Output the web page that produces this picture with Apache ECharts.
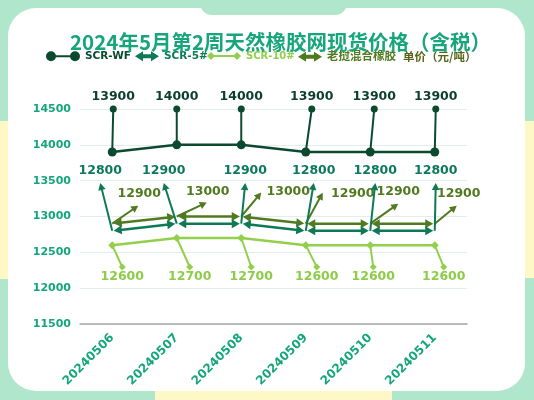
<!DOCTYPE html>
<html><head><meta charset="utf-8">
<script src="https://cdn.jsdelivr.net/npm/echarts@6/dist/echarts.min.js"></script>
<style>html,body{margin:0;padding:0;background:#b0e6cc}#c{width:534px;height:400px}</style>
</head><body><div id="c"></div>
<script>
// ---- data ----
const categories = ['20240506','20240507','20240508','20240509','20240510','20240511'];
const scrWF = [13900,14000,14000,13900,13900,13900];
const scr5  = [12800,12900,12900,12800,12800,12800];
const scr10 = [12600,12700,12700,12600,12600,12600];
const laos  = [12900,13000,13000,12900,12900,12900];
const yMin = 11500, yMax = 14500, yStep = 500;
const seriesNames = ['SCR-WF','SCR-5#','SCR-10#','老挝混合橡胶'];
const titleText = '2024年5月第2周天然橡胶网现货价格（含税）';
const unitText = '单价（元/吨）';

// ---- styles ----
const FONT = "'DejaVu Sans','Noto Sans CJK SC',sans-serif";
const C = {wf:'#0c4a2f', s5:'#0d7a55', s10:'#92cf4c', laos:'#4f7a1f', axis:'#13a67c', title:'#17a57a', unit:'#55651a'};

function arrowHead(tip, dir, len, hw, color){
  const bx = tip[0]-dir[0]*len, by = tip[1]-dir[1]*len;
  const px = -dir[1], py = dir[0];
  return {type:'polygon', shape:{points:[[tip[0],tip[1]],[bx+px*hw,by+py*hw],[bx-px*hw,by-py*hw]]}, style:{fill:color}};
}
function unit(a,b){const dx=b[0]-a[0],dy=b[1]-a[1];const l=Math.hypot(dx,dy)||1;return [dx/l,dy/l];}

function makeSeries(name, values, color, cfg){
  return {
    type:'custom', name, coordinateSystem:'cartesian2d', clip:false, z: cfg.z,
    itemStyle:{color}, encode:{x:0,y:1},
    data: values.map((v,i)=>[i,v]),
    renderItem(params, api){
      const i = params.dataIndex;
      const p = api.coord([i, values[i]]);
      const ch = [];
      if (i < values.length-1){
        const n = api.coord([i+1, values[i+1]]);
        const u = unit(p,n);
        if (cfg.arrows){
          ch.push({type:'line', shape:{x1:p[0]+u[0]*6,y1:p[1]+u[1]*6,x2:n[0]-u[0]*6,y2:n[1]-u[1]*6}, style:{stroke:color,lineWidth:2.5}});
          ch.push(arrowHead([p[0]+u[0]*1.5,p[1]+u[1]*1.5],[-u[0],-u[1]],8,4.5,color));
          ch.push(arrowHead([n[0]-u[0]*1.5,n[1]-u[1]*1.5],u,8,4.5,color));
        } else {
          ch.push({type:'line', shape:{x1:p[0],y1:p[1],x2:n[0],y2:n[1]}, style:{stroke:color,lineWidth:2.5}});
        }
      }
      // leader line
      let e;
      if (cfg.endValue != null) e = [p[0]+cfg.dx[i], api.coord([i,cfg.endValue])[1]];
      else e = [p[0]+cfg.dx[i], p[1]+cfg.dy[i]];
      const u2 = unit(p,e);
      const cut = cfg.end === 'arrow' ? 5 : 0;
      ch.push({type:'line', shape:{x1:p[0],y1:p[1],x2:e[0]-u2[0]*cut,y2:e[1]-u2[1]*cut}, style:{stroke:color,lineWidth:2}});
      if (cfg.end === 'dot') ch.push({type:'circle', shape:{cx:e[0],cy:e[1],r:3.5}, style:{fill:color}});
      else if (cfg.end === 'arrow') ch.push(arrowHead(e,u2,7,3.8,color));
      else if (cfg.end === 'diamond') ch.push({type:'polygon', shape:{points:[[e[0],e[1]-3.5],[e[0]+3.5,e[1]],[e[0],e[1]+3.5],[e[0]-3.5,e[1]]]}, style:{fill:color}});
      // point symbol
      if (cfg.symbol === 'circle') ch.push({type:'circle', shape:{cx:p[0],cy:p[1],r:4.5}, style:{fill:color}});
      else if (cfg.symbol === 'diamond') ch.push({type:'polygon', shape:{points:[[p[0],p[1]-4],[p[0]+4,p[1]],[p[0],p[1]+4],[p[0]-4,p[1]]]}, style:{fill:color}});
      // label
      const t = cfg.textOff[i] || cfg.textOff[0];
      ch.push({type:'text', x:e[0]+t[0], y:e[1]+t[1], style:{text:String(values[i]), fill:cfg.labelColor, font:'bold 12.5px '+FONT, align:'center', verticalAlign:'middle', textAlign:'center', textVerticalAlign:'middle'}});
      return {type:'group', children:ch};
    }
  };
}

const series = [
  makeSeries(seriesNames[0], scrWF, C.wf, {z:5, symbol:'circle', end:'dot', endValue:14500, dx:[1,0,0,6,4,1], textOff:[[0,-12]], labelColor:'#0c3e2c'}),
  makeSeries(seriesNames[2], scr10, C.s10, {z:4, symbol:'diamond', end:'diamond', endValue:12295, dx:[10,13,10,11,3,9], textOff:[[0,10]], labelColor:'#8dcc48'}),
  makeSeries(seriesNames[3], laos, C.laos, {z:5, arrows:true, end:'arrow', dx:[26,30,20,17,28,22], dy:[-18,-14,-24,-31,-20,-18], textOff:[[1,-12],[1,-11],[27,-1],[30,1],[0,-12],[2,-12]], labelColor:'#4f7a1f'}),
  makeSeries(seriesNames[1], scr5, C.s5, {z:6, arrows:true, end:'arrow', endValue:13467, dx:[-12,-13,4,8,5,1], textOff:[[0,-12]], labelColor:'#0b7a5c'})
];

const icDot = 'path://M0,5A5,5,0,1,1,10,5A5,5,0,1,1,0,5Z M5,4H29V6H5Z M24,5A5,5,0,1,1,34,5A5,5,0,1,1,24,5Z';
const icArrow = 'path://M0,5L8,0L8,3L16,3L16,0L24,5L16,10L16,7L8,7L8,10Z';
const icDia = 'path://M0,5L4,1L8,5L4,9Z M4,4H30V6H4Z M26,5L30,1L34,5L30,9Z';

function lg(left, name, icon, w, color, size){
  return {left, top:51, padding:0, itemWidth:w, itemHeight:10, selectedMode:false,
    textStyle:{fontFamily:FONT, fontWeight:'bold', fontSize:size, color},
    data:[{name, icon}]};
}

const option = {
  backgroundColor:'#b0e6cc',
  animation:false,
  title:{text:titleText, left:70, top:32, padding:0,
    textStyle:{fontFamily:"'Noto Sans CJK SC',sans-serif", fontWeight:'bold', fontSize:20.5, color:C.title,
      textShadowColor:'rgba(235,215,90,0.7)', textShadowOffsetX:1, textShadowOffsetY:1, textShadowBlur:0}},
  legend:[
    lg(46, seriesNames[0], icDot, 34, C.wf, 10.5),
    lg(135, seriesNames[1], icArrow, 24, C.s5, 10.5),
    lg(207, seriesNames[2], icDia, 34, C.s10, 10),
    lg(298, seriesNames[3], icArrow, 24, C.laos, 11.5)
  ],
  graphic:[
    {type:'rect', z:-10, shape:{x:0,y:121,width:24,height:158}, style:{fill:'#fdf8c6'}},
    {type:'rect', z:-10, shape:{x:510,y:121,width:24,height:157}, style:{fill:'#fdf8c6'}},
    {type:'rect', z:-10, shape:{x:155,y:375,width:237,height:40,r:8}, style:{fill:'#fdf8c6'}},
    {type:'rect', z:-9, shape:{x:8,y:8,width:517,height:383,r:28}, style:{fill:'#ffffff'}},
    {type:'rect', z:-8, shape:{x:200,y:-20,width:147,height:35,r:12}, style:{fill:'#b0e6cc'}},
    {type:'text', z:10, x:403, y:57, style:{text:unitText, fill:C.unit, font:'bold 11.5px '+"'Noto Sans CJK SC',sans-serif", verticalAlign:'middle', textVerticalAlign:'middle'}}
  ],
  grid:{left:80, right:67, top:109, bottom:76, containLabel:false, outerBoundsMode:'none'},
  xAxis:{type:'category', data:categories, boundaryGap:true,
    axisLine:{show:true, lineStyle:{color:'#a8a8a8', width:1.5}}, axisTick:{show:false},
    axisLabel:{rotate:45, margin:12, interval:0, color:C.axis, fontFamily:FONT, fontWeight:'bold', fontSize:12, hideOverlap:false}},
  yAxis:{type:'value', min:yMin, max:yMax, interval:yStep,
    axisLine:{show:false}, axisTick:{show:false},
    splitLine:{lineStyle:{color:'#e2eeea', width:1}},
    axisLabel:{margin:9, color:C.axis, fontFamily:FONT, fontWeight:'bold', fontSize:11, formatter:(v)=>String(v)}},
  series
};
const chart = echarts.init(document.getElementById('c'), null, {renderer:'canvas'});
chart.setOption(option);
</script></body></html>
